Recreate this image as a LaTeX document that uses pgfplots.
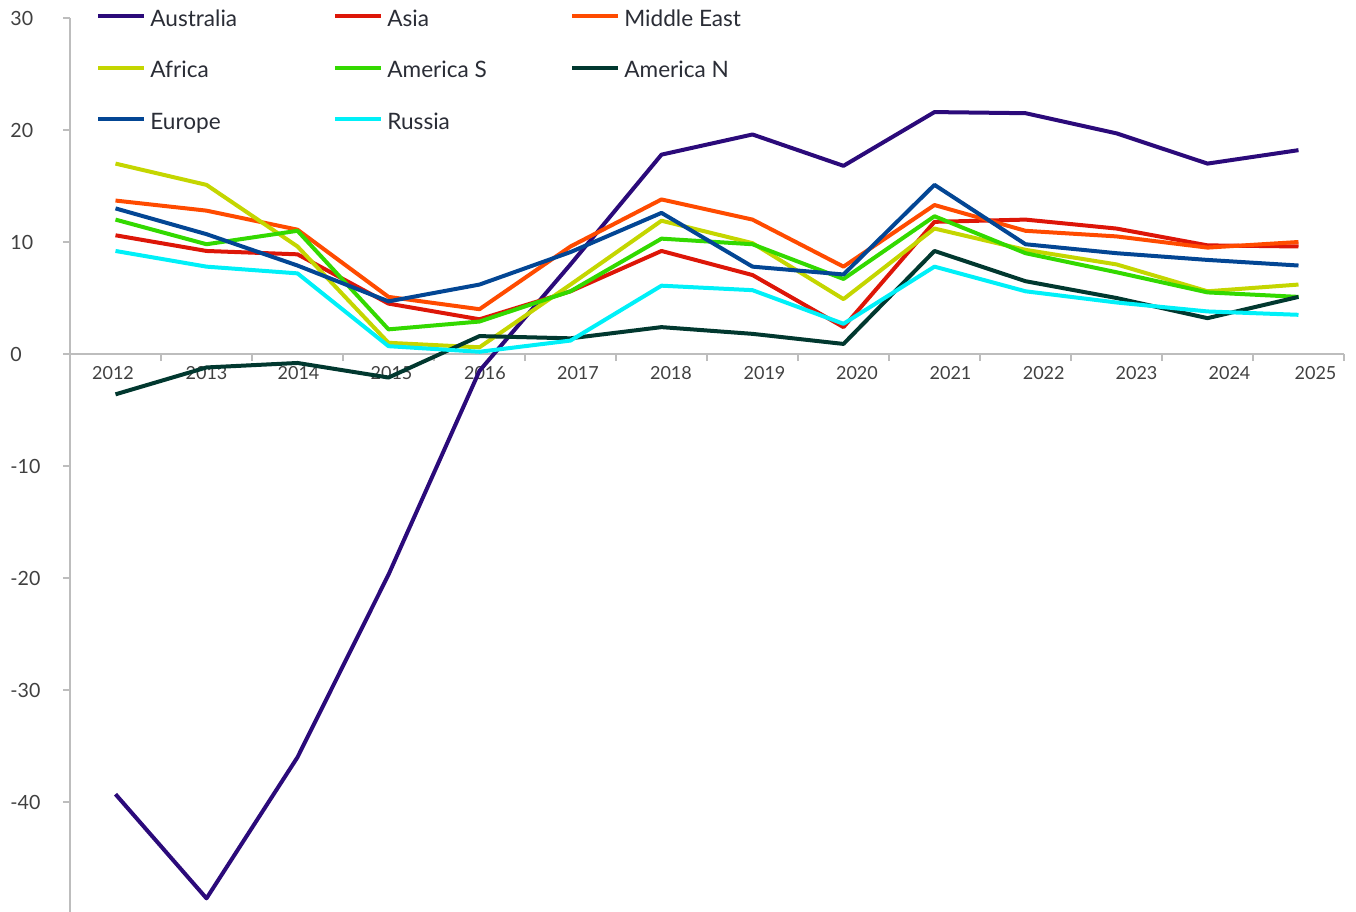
\documentclass[border=0pt]{standalone}
\usepackage{pgfplots}
\pgfplotsset{compat=1.18}
\usepackage{fontspec}
\setmainfont{Lato}
\definecolor{cAus}{HTML}{2B0A7A}
\definecolor{cAsia}{HTML}{DD1608}
\definecolor{cME}{HTML}{FF4B00}
\definecolor{cAfr}{HTML}{C4D600}
\definecolor{cAmS}{HTML}{33D900}
\definecolor{cAmN}{HTML}{01382F}
\definecolor{cEur}{HTML}{034694}
\definecolor{cRus}{HTML}{00F0F8}
\definecolor{axisgray}{HTML}{BDBDBD}
\definecolor{tickcol}{HTML}{404040}
\definecolor{legcol}{HTML}{2A2D36}
\newcommand{\legtxt}[1]{\makebox[91.5pt][l]{\rule[-6.1pt]{0pt}{17.7pt}#1}}
\begin{document}
\begin{tikzpicture}
\begin{axis}[
  scale only axis, width=637pt, height=446.9pt,
  xmin=-0.5, xmax=13.5, ymin=-49.8, ymax=30,
  axis x line=middle, axis y line=left,
  axis line style={-, draw=axisgray, line width=0.75pt},
  xtick={-0.5,0.5,...,13.5}, xticklabels={},
  extra x ticks={-0.027,1.0,2.011,3.033,4.06,5.082,6.104,7.132,8.148,9.176,10.2,11.22,12.242,13.187},
  extra x tick labels={2012,2013,2014,2015,2016,2017,2018,2019,2020,2021,2022,2023,2024,2025},
  extra x tick style={major tick length=0pt, xticklabel style={yshift=-2.5pt}},
  ytick={-40,-30,-20,-10,0,10,20,30},
  tick align=outside, major tick length=3.5pt,
  tick style={draw=axisgray, line width=0.75pt},
  ticklabel style={font=\fontsize{9}{11}\selectfont, text=tickcol},
  /pgf/number format/assume math mode=true,
  yticklabel style={anchor=west, inner sep=0pt, xshift=-26.5pt, font=\fontsize{9.8}{11}\selectfont},
  clip=false,
  legend columns=3,
  legend cell align=left,
  legend style={draw=none, fill=none, inner sep=0pt, at={(rel axis cs:0,1)}, anchor=north west,
    xshift=13pt, yshift=7.5pt, font=\fontsize{11.3}{13.6}\selectfont, text=legcol,
    nodes={inner sep=0pt}, row sep=12.6pt,
    /tikz/every odd column/.style={column sep=2pt}},
  legend image code/.code={\draw[#1] (0pt,0pt) -- (23pt,0pt);},
  every axis plot/.append style={line width=2pt, mark=none, line join=round},
]
\addplot[cAus] coordinates {(0,-39.3) (1,-48.6) (2,-36.0) (3,-19.7) (4,-1.5) (5,8.0) (6,17.8) (7,19.6) (8,16.8) (9,21.6) (10,21.5) (11,19.7) (12,17.0) (13,18.2)};
\addlegendentry{\legtxt{Australia}}
\addplot[cAsia] coordinates {(0,10.6) (1,9.2) (2,8.9) (3,4.5) (4,3.1) (5,5.6) (6,9.2) (7,7.05) (8,2.4) (9,11.8) (10,12.0) (11,11.2) (12,9.7) (13,9.6)};
\addlegendentry{\legtxt{Asia}}
\addplot[cME] coordinates {(0,13.7) (1,12.8) (2,11.1) (3,5.1) (4,4.0) (5,9.6) (6,13.8) (7,12.0) (8,7.8) (9,13.3) (10,11.0) (11,10.5) (12,9.5) (13,10.0)};
\addlegendentry{\legtxt{Middle East}}
\addplot[cAfr] coordinates {(0,17.0) (1,15.1) (2,9.6) (3,1.0) (4,0.6) (5,6.2) (6,11.9) (7,9.9) (8,4.9) (9,11.2) (10,9.3) (11,8.0) (12,5.6) (13,6.2)};
\addlegendentry{\legtxt{Africa}}
\addplot[cAmS] coordinates {(0,12.0) (1,9.8) (2,11.0) (3,2.2) (4,2.9) (5,5.6) (6,10.3) (7,9.8) (8,6.7) (9,12.3) (10,9.0) (11,7.3) (12,5.5) (13,5.1)};
\addlegendentry{\legtxt{America S}}
\addplot[cAmN] coordinates {(0,-3.6) (1,-1.2) (2,-0.8) (3,-2.1) (4,1.6) (5,1.4) (6,2.4) (7,1.8) (8,0.9) (9,9.2) (10,6.5) (11,5.0) (12,3.2) (13,5.1)};
\addlegendentry{\legtxt{America N}}
\addplot[cEur] coordinates {(0,13.0) (1,10.7) (2,7.9) (3,4.7) (4,6.2) (5,9.1) (6,12.6) (7,7.8) (8,7.1) (9,15.1) (10,9.8) (11,9.0) (12,8.4) (13,7.9)};
\addlegendentry{\legtxt{Europe}}
\addplot[cRus] coordinates {(0,9.2) (1,7.8) (2,7.2) (3,0.7) (4,0.2) (5,1.2) (6,6.1) (7,5.7) (8,2.7) (9,7.8) (10,5.6) (11,4.6) (12,3.8) (13,3.5)};
\addlegendentry{\legtxt{Russia}}
\coordinate (BL) at (rel axis cs:0,0);
\coordinate (TR) at (rel axis cs:1,1);
\end{axis}
\pgfresetboundingbox
\path[use as bounding box] ([xshift=-35pt]BL) rectangle ([xshift=6pt,yshift=9pt]TR);
\end{tikzpicture}
\end{document}
